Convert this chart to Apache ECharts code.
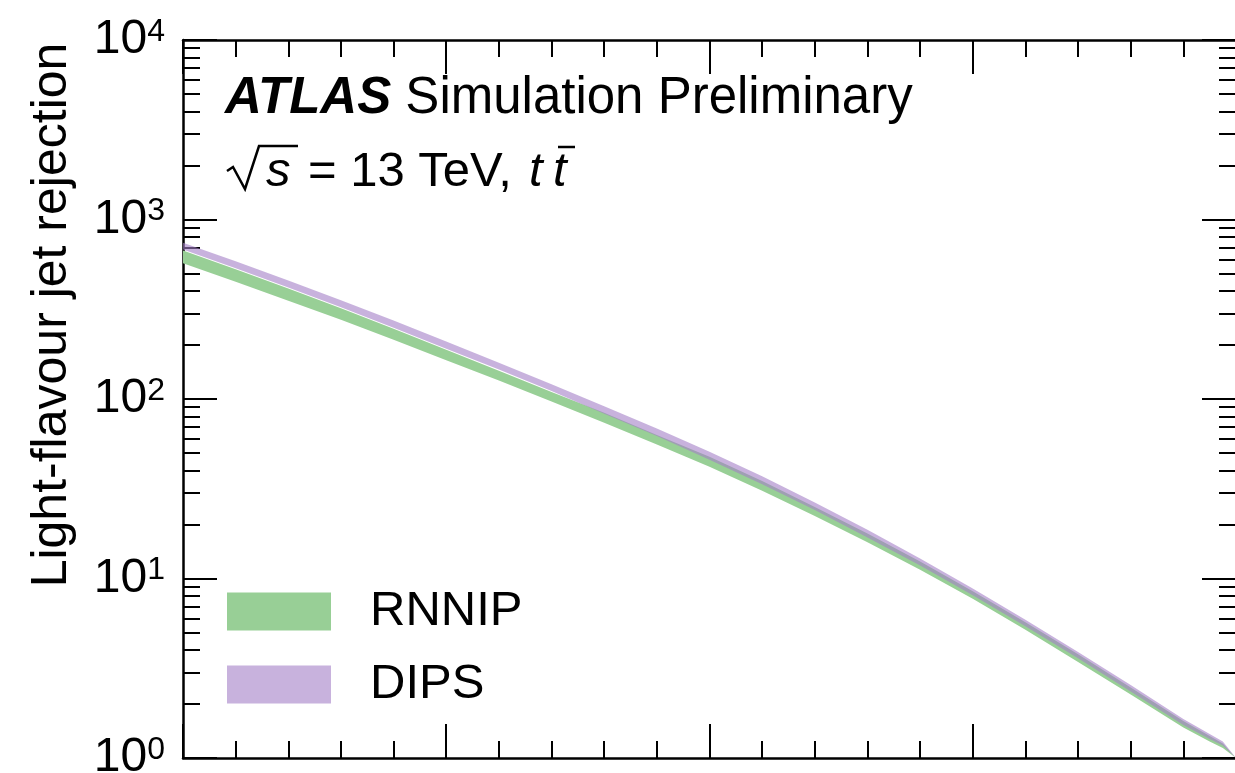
<!DOCTYPE html>
<html>
<head>
<meta charset="utf-8">
<script src="https://cdn.jsdelivr.net/npm/echarts@6/dist/echarts.min.js"></script>
<style>
html, body { margin: 0; padding: 0; background: #fff; }
#chart { width: 1235px; height: 773px; }
</style>
</head>
<body>
<div id="chart"></div>
<script>
// b-jet efficiency points
var effs = [0.60, 0.62, 0.64, 0.66, 0.68, 0.70, 0.72, 0.74, 0.76, 0.78, 0.80,
            0.82, 0.84, 0.86, 0.88, 0.90, 0.92, 0.94, 0.96, 0.98, 0.99, 0.995, 1.0];

// light-flavour rejection bands (lower / upper edge)
var rnnip_lo = [571, 450, 353, 276, 213.8, 164.6, 126.6, 96.9, 73.8, 55.8, 41.9,
                30.8, 22.3, 15.91, 11.18, 7.71, 5.18, 3.43, 2.255, 1.478, 1.236, 1.137, 1.0];
var rnnip_hi = [672, 528, 412.5, 320, 246.6, 188.3, 143.9, 109.4, 83.9, 63.1, 47.7,
                34.9, 25.0, 17.82, 12.43, 8.49, 5.70, 3.78, 2.473, 1.607, 1.326, 1.204, 1.0];
var dips_lo  = [681, 535, 418, 324, 249.7, 190.7, 145.8, 110.8, 82.8, 62.3, 45.9,
                33.5, 24.05, 16.93, 11.80, 8.07, 5.42, 3.59, 2.349, 1.526, 1.276, 1.174, 1.0];
var dips_hi  = [743, 585, 457, 355, 273.5, 208.9, 159.2, 120.8, 91.2, 68.4, 50.9,
                37.1, 26.5, 18.66, 12.94, 8.81, 5.90, 3.90, 2.547, 1.648, 1.360, 1.236, 1.0];

var font = 'Liberation Sans';

// one filled polygon per band, lower edge back to front
function band(name, lo, hi, color) {
  var rows = [];
  for (var i = 0; i < effs.length; i++) rows.push([effs[i], lo[i], hi[i]]);
  return {
    name: name, type: 'custom', data: rows,
    encode: { x: 0, y: [1, 2] },
    itemStyle: { color: color },
    silent: true, animation: false,
    renderItem: function (params, api) {
      if (params.dataIndex !== 0) return;
      var up = [], down = [];
      for (var k = 0; k < rows.length; k++) {
        up.push(api.coord([rows[k][0], rows[k][2]]));
        down.unshift(api.coord([rows[k][0], rows[k][1]]));
      }
      return { type: 'polygon', shape: { points: up.concat(down) }, style: { fill: color } };
    }
  };
}

function xAxisDef(pos) {
  return {
    type: 'value', position: pos, min: 0.6, max: 1.0, interval: 0.1,
    axisLine: { show: true, onZero: false, lineStyle: { color: '#000', width: 2.5 } },
    axisTick: { show: true, inside: true, length: 34, lineStyle: { color: '#000', width: 2 } },
    minorTick: { show: true, splitNumber: 5, length: 17, lineStyle: { color: '#000', width: 2 } },
    axisLabel: { show: false },
    splitLine: { show: false }
  };
}

function yAxisDef(pos, labels) {
  return {
    type: 'log', logBase: 10, position: pos, min: 1, max: 10000,
    axisLine: { show: true, onZero: false, lineStyle: { color: '#000', width: 2.5 } },
    axisTick: { show: true, inside: true, length: 34, lineStyle: { color: '#000', width: 2 } },
    minorTick: { show: true, splitNumber: 9, length: 17, lineStyle: { color: '#000', width: 2 } },
    axisLabel: {
      show: labels, margin: 18, color: '#000', fontFamily: font, fontSize: 48,
      formatter: function (v) {
        return '{b|10}{sup|' + Math.round(Math.log10(v)) + '}';
      },
      rich: {
        b: { fontFamily: font, fontSize: 48, lineHeight: 48, color: '#000' },
        sup: { fontFamily: font, fontSize: 32, lineHeight: 22, verticalAlign: 'top', color: '#000' }
      }
    },
    splitLine: { show: false }
  };
}

var chart = echarts.init(document.getElementById('chart'));
var option = {
  backgroundColor: '#fff',
  animation: false,
  grid: { left: 183, top: 40, right: -1, bottom: 15, containLabel: false, outerBoundsMode: 'none' },
  xAxis: [xAxisDef('bottom'), xAxisDef('top')],
  yAxis: [yAxisDef('left', true), yAxisDef('right', false)],
  legend: {
    data: [
      { name: 'RNNIP', itemStyle: { color: '#98CF96' } },
      { name: 'DIPS', itemStyle: { color: '#C8B2DD' } }
    ],
    orient: 'vertical', left: 227, top: 587, padding: 0, icon: 'rect',
    itemWidth: 104, itemHeight: 38, itemGap: 24, selectedMode: false,
    textStyle: { fontFamily: font, fontSize: 49, color: '#000', padding: [0, 0, 0, 34] }
  },
  graphic: [
    { type: 'text', x: 52, y: 315, rotation: Math.PI / 2,
      style: { text: 'Light-flavour jet rejection', fontFamily: font, fontSize: 50,
               fill: '#000', align: 'center', verticalAlign: 'middle' } },
    { type: 'text', x: 225, y: 99,
      style: { text: '{a|ATLAS} Simulation Preliminary', fontFamily: font, fontSize: 51,
               fill: '#000', align: 'left', verticalAlign: 'middle',
               rich: { a: { fontFamily: font, fontSize: 51, fontWeight: 'bold', fontStyle: 'italic' } } } },
    // sqrt(s) = 13 TeV, t tbar
    { type: 'polyline',
      shape: { points: [[227, 171], [233, 167], [245, 189], [259, 146], [298, 146]] },
      style: { stroke: '#000', lineWidth: 2.5, fill: null } },
    { type: 'text', x: 266, y: 172,
      style: { text: 's', fontFamily: font, fontSize: 49, fontStyle: 'italic',
               fill: '#000', align: 'left', verticalAlign: 'middle' } },
    { type: 'text', x: 308, y: 172,
      style: { text: '= 13 TeV,', fontFamily: font, fontSize: 49,
               fill: '#000', align: 'left', verticalAlign: 'middle' } },
    { type: 'text', x: 529, y: 172,
      style: { text: 't', fontFamily: font, fontSize: 49, fontStyle: 'italic',
               fill: '#000', align: 'left', verticalAlign: 'middle' } },
    { type: 'text', x: 553, y: 172,
      style: { text: 't', fontFamily: font, fontSize: 49, fontStyle: 'italic',
               fill: '#000', align: 'left', verticalAlign: 'middle' } },
    { type: 'line', shape: { x1: 558, y1: 147, x2: 575, y2: 147 },
      style: { stroke: '#000', lineWidth: 2.5 } }
  ],
  series: [
    band('RNNIP', rnnip_lo, rnnip_hi, '#98CF96'),
    band('DIPS', dips_lo, dips_hi, 'rgba(163,127,198,0.6)')
  ]
};
chart.setOption(option);
</script>
</body>
</html>
